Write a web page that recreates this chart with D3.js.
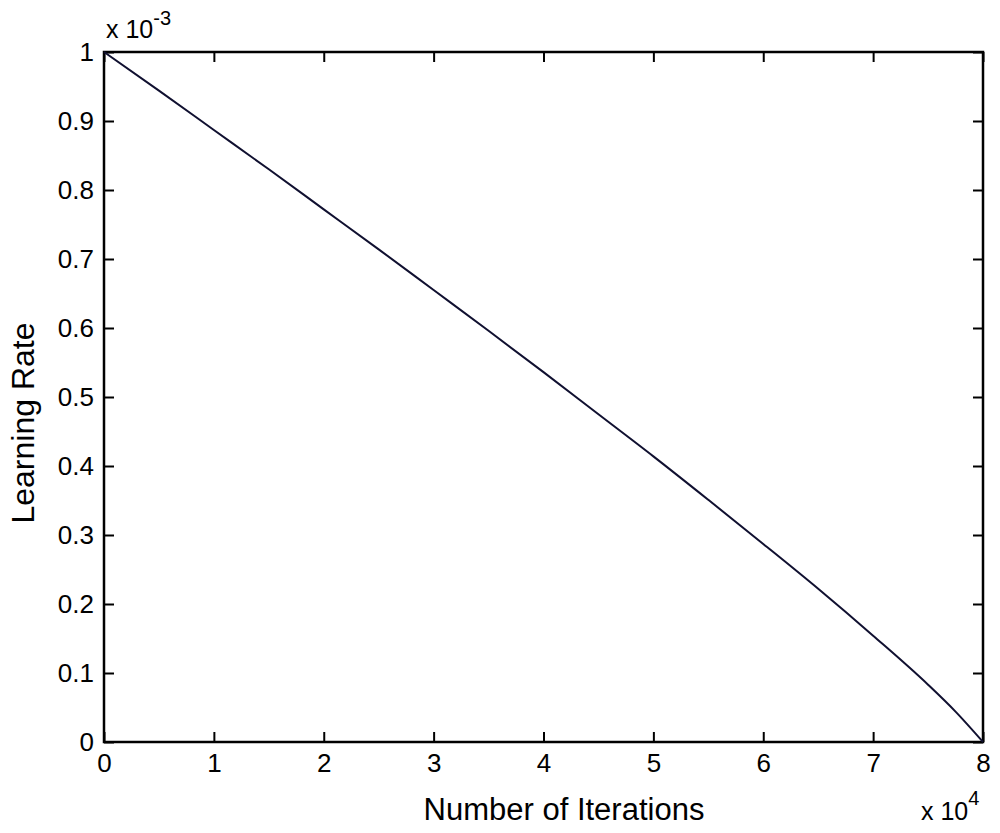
<!DOCTYPE html>
<html>
<head>
<meta charset="utf-8">
<script src="https://cdn.jsdelivr.net/npm/d3@7"></script>
<style>
  html, body { margin: 0; padding: 0; background: #fff; }
  svg { display: block; font-family: "Liberation Sans", Arial, sans-serif; }
</style>
</head>
<body>
<svg id="chart" width="1000" height="833"></svg>
<script>
// Iterations (x 10^4)
const iterations = [0, 0.5, 1, 1.5, 2, 2.5, 3, 3.5, 4, 4.5, 5, 5.5, 6, 6.5, 7, 7.5, 7.75, 8];
// Learning rate (x 10^-3)
const learningRate = [1.0, 0.944, 0.887, 0.830, 0.772, 0.714, 0.655, 0.596, 0.536, 0.475, 0.414, 0.351, 0.287, 0.222, 0.154, 0.083, 0.044, 0.0];

const xTicks = [0, 1, 2, 3, 4, 5, 6, 7, 8];
const xTickLabels = ["0", "1", "2", "3", "4", "5", "6", "7", "8"];
const yTicks = [0, 0.1, 0.2, 0.3, 0.4, 0.5, 0.6, 0.7, 0.8, 0.9, 1];
const yTickLabels = ["0", "0.1", "0.2", "0.3", "0.4", "0.5", "0.6", "0.7", "0.8", "0.9", "1"];

const xLabel = "Number of Iterations";
const yLabel = "Learning Rate";

const svg = d3.select("#chart");
const m = { left: 104, top: 52, right: 983, bottom: 742 };

const x = d3.scaleLinear().domain([0, 8]).range([m.left, m.right]);
const y = d3.scaleLinear().domain([0, 1]).range([m.bottom, m.top]);

const tickFont = 26;

// bottom axis (ticks inward)
const gx = svg.append("g").attr("transform", `translate(0,${m.bottom})`)
  .call(d3.axisBottom(x).tickValues(xTicks).tickSize(-10).tickPadding(12)
    .tickFormat((d, i) => xTickLabels[i]));
// top axis ticks
const gxt = svg.append("g").attr("transform", `translate(0,${m.top})`)
  .call(d3.axisTop(x).tickValues(xTicks).tickSize(-10).tickFormat(""));
// left axis
const gy = svg.append("g").attr("transform", `translate(${m.left},0)`)
  .call(d3.axisLeft(y).tickValues(yTicks).tickSize(-10).tickPadding(10)
    .tickFormat((d, i) => yTickLabels[i]));
// right axis ticks
const gyr = svg.append("g").attr("transform", `translate(${m.right},0)`)
  .call(d3.axisRight(y).tickValues(yTicks).tickSize(-10).tickFormat(""));

[gx, gxt, gy, gyr].forEach(g => {
  g.select(".domain").remove();
  g.selectAll(".tick line").attr("stroke", "#000").attr("stroke-width", 2);
  g.selectAll(".tick text").attr("fill", "#000").attr("font-size", tickFont)
    .attr("font-family", "Liberation Sans, Arial, sans-serif");
});

// frame
svg.append("rect")
  .attr("x", m.left).attr("y", m.top)
  .attr("width", m.right - m.left).attr("height", m.bottom - m.top)
  .attr("fill", "none").attr("stroke", "#000").attr("stroke-width", 2.5);

// line
const line = d3.line().x((d, i) => x(iterations[i])).y(d => y(d)).curve(d3.curveMonotoneX);
svg.append("path")
  .datum(learningRate)
  .attr("d", line)
  .attr("fill", "none")
  .attr("stroke", "#101030")
  .attr("stroke-width", 2);

// axis labels
svg.append("text")
  .attr("x", 564).attr("y", 820)
  .attr("text-anchor", "middle")
  .attr("font-size", 31)
  .attr("fill", "#000")
  .text(xLabel);

svg.append("text")
  .attr("transform", "translate(34,423) rotate(-90)")
  .attr("text-anchor", "middle")
  .attr("font-size", 32)
  .attr("fill", "#000")
  .text(yLabel);

// exponent labels
const e1 = svg.append("text").attr("x", 106).attr("y", 38).attr("font-size", 25).attr("fill", "#000");
e1.append("tspan").text("x ");
e1.append("tspan").text("10");
e1.append("tspan").attr("font-size", 20).attr("dy", -13).text("-3");

const e2 = svg.append("text").attr("x", 921).attr("y", 820).attr("font-size", 25).attr("fill", "#000");
e2.append("tspan").text("x ");
e2.append("tspan").text("10");
e2.append("tspan").attr("font-size", 20).attr("dy", -15).text("4");
</script>
</body>
</html>
